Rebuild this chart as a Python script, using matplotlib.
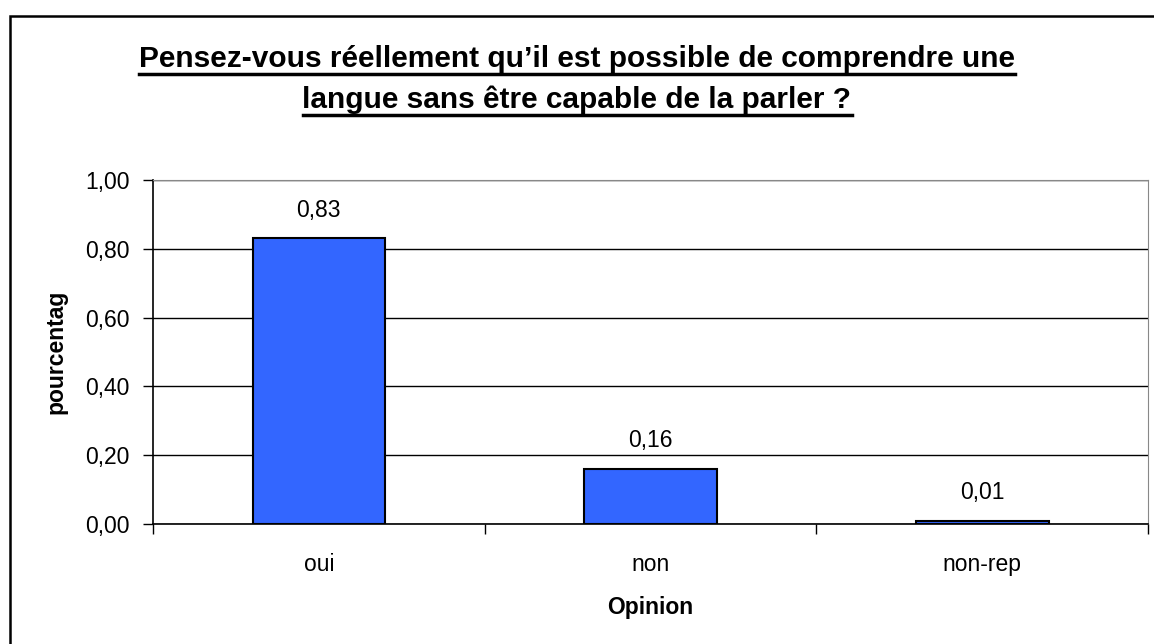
import matplotlib.pyplot as plt
from matplotlib.patches import Rectangle
from matplotlib.lines import Line2D

# données
categories = ['oui', 'non', 'non-rep']
valeurs = [0.83, 0.16, 0.01]
graduations = [0, 0.2, 0.4, 0.6, 0.8, 1.0]
titre = ["Pensez-vous réellement qu\u2019il est possible de comprendre une",
         "langue sans être capable de la parler ?"]

plt.rcParams['font.family'] = ['Liberation Sans', 'DejaVu Sans']

fig = plt.figure(figsize=(11.54, 6.44), dpi=100)
ax = fig.add_axes([153 / 1154, 1 - 524 / 644, 995 / 1154, 344 / 644])

x = range(len(categories))
ax.bar(x, valeurs, width=0.4, color='#3366ff', edgecolor='black', linewidth=1.5, zorder=3)
for i, v in zip(x, valeurs):
    ax.text(i, v + 28 / 344, f'{v:.2f}'.replace('.', ','), ha='center', va='center', fontsize=16.5)

ax.set_xlim(-0.5, 2.5)
ax.set_ylim(0, 1)
ax.set_yticks(graduations)
ax.set_yticklabels([f'{t:.2f}'.replace('.', ',') for t in graduations], fontsize=16.5)
ax.yaxis.grid(True, color='black', linewidth=1, zorder=0)
ax.set_xticks([0, 1, 2])
ax.set_xticklabels(categories, fontsize=16.5)
ax.tick_params(axis='x', length=0, pad=21)
ax.set_xticks([-0.5, 0.5, 1.5, 2.5], minor=True)
ax.tick_params(axis='x', which='minor', length=7, width=1)
ax.tick_params(axis='y', length=7, width=1, pad=10)
ax.spines['top'].set_color('#888888')
ax.spines['right'].set_color('#888888')
ax.spines['left'].set_linewidth(1.2)
ax.spines['bottom'].set_linewidth(1.2)

ax.set_xlabel('Opinion', fontsize=16.5, fontweight='bold')
ax.xaxis.set_label_coords(0.5, -0.21)
ax.set_ylabel('pourcentag', fontsize=16.5, fontweight='bold')
ax.yaxis.set_label_coords((67 - 153) / 995, 0.5)

# titre souligné
fig.canvas.draw()
renderer = fig.canvas.get_renderer()
for k, ligne in enumerate(titre):
    y = 1 - (67 + 41 * k) / 644
    t = fig.text(0.5, y, ligne, ha='center', va='baseline', fontsize=21.5, fontweight='bold')
    bb = t.get_window_extent(renderer).transformed(fig.transFigure.inverted())
    yl = y - 6.5 / 644
    fig.add_artist(Line2D([bb.x0, bb.x1], [yl, yl], color='black', linewidth=2.5,
                          transform=fig.transFigure))

# cadre
fig.add_artist(Rectangle((10 / 1154, -0.05), 1.1, 1.05 - 16 / 644, fill=False,
                         edgecolor='black', linewidth=1.8, transform=fig.transFigure))

fig.savefig('out.png', dpi=100)
